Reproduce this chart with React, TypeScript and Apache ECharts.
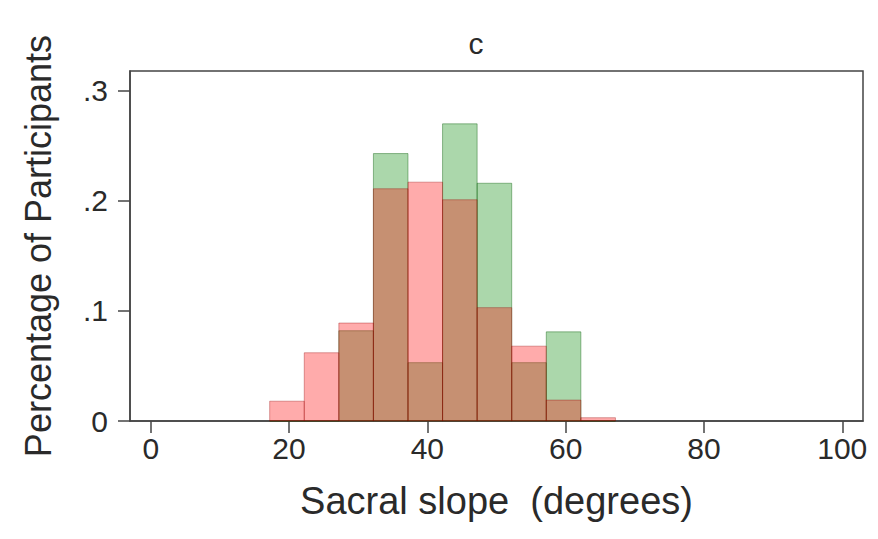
import React, { useEffect, useRef } from "react";
import * as echarts from "echarts";

// Histogram bins (degrees): left edges, common width
const binStarts = [17.2, 22.2, 27.2, 32.2, 37.2, 42.2, 47.2, 52.2, 57.2, 62.2];
const binWidth = 5;
// Fractions of participants per bin
const redValues = [0.018, 0.062, 0.089, 0.211, 0.217, 0.201, 0.103, 0.068, 0.019, 0.003];
const greenValues = [0, 0, 0.082, 0.243, 0.053, 0.270, 0.216, 0.053, 0.081, 0];
const xTicks = [0, 20, 40, 60, 80, 100];
const yTicks = [0, 0.1, 0.2, 0.3];

const FONT = "'Liberation Sans', Arial, sans-serif";
const TXT = "#2a2a2a";
const AXIS = "#444";

function makeData(vals: number[]) {
  return binStarts.map((s, i) => [s, s + binWidth, vals[i]]);
}

function histSeries(name: string, vals: number[], fill: string, stroke: string) {
  return {
    type: "custom",
    name,
    data: makeData(vals),
    encode: { x: [0, 1], y: 2 },
    renderItem: (params: any, api: any) => {
      const p0 = api.coord([api.value(0), 0]);
      const p1 = api.coord([api.value(1), api.value(2)]);
      return {
        type: "rect",
        shape: { x: p0[0], y: p1[1], width: p1[0] - p0[0], height: p0[1] - p1[1] },
        style: { fill, stroke, lineWidth: 1 },
      };
    },
  };
}

export default function App() {
  const ref = useRef<HTMLDivElement>(null);
  useEffect(() => {
    if (!ref.current) return;
    document.body.style.margin = "0";
    const chart = echarts.init(ref.current, undefined, { renderer: "svg" });
    chart.setOption({
      animation: false,
      backgroundColor: "#fff",
      grid: {
        left: 130,
        right: 15,
        top: 71,
        bottom: 118,
        show: true,
        borderColor: AXIS,
        borderWidth: 1.5,
        backgroundColor: "#fff",
      },
      graphic: [
        {
          type: "text",
          x: 476,
          y: 43,
          style: {
            text: "c",
            font: `30px ${FONT}`,
            fill: TXT,
            textAlign: "center",
            textVerticalAlign: "middle",
          },
        },
      ],
      xAxis: {
        type: "value",
        min: -3,
        max: 103,
        name: "Sacral slope  (degrees)",
        nameLocation: "middle",
        nameGap: 61,
        nameTextStyle: { fontFamily: FONT, fontSize: 38, color: TXT },
        axisLine: { show: true, onZero: false, lineStyle: { color: AXIS, width: 1.5 } },
        axisTick: { show: true, length: 12, customValues: xTicks, lineStyle: { color: AXIS, width: 1.5 } },
        axisLabel: {
          customValues: xTicks,
          margin: 12,
          fontFamily: FONT,
          fontSize: 30,
          color: TXT,
        },
        splitLine: { show: false },
      },
      yAxis: {
        type: "value",
        min: 0,
        max: 0.318,
        name: "Percentage of Participants",
        nameLocation: "middle",
        nameGap: 74,
        nameTextStyle: { fontFamily: FONT, fontSize: 36, color: TXT },
        axisLine: { show: true, onZero: false, lineStyle: { color: AXIS, width: 1.5 } },
        axisTick: { show: true, length: 12, customValues: yTicks, lineStyle: { color: AXIS, width: 1.5 } },
        axisLabel: {
          customValues: yTicks,
          margin: 22,
          fontFamily: FONT,
          fontSize: 30,
          color: TXT,
          formatter: (v: number) => (v === 0 ? "0" : "." + Math.round(v * 10)),
        },
        splitLine: { show: false },
      },
      series: [
        histSeries("Green group", greenValues, "rgba(0,134,0,0.33)", "rgba(0,90,0,0.4)"),
        histSeries("Red group", redValues, "rgba(255,0,0,0.33)", "rgba(150,0,0,0.35)"),
      ],
    });
    return () => chart.dispose();
  }, []);
  return <div ref={ref} style={{ width: 878, height: 539 }} />;
}
